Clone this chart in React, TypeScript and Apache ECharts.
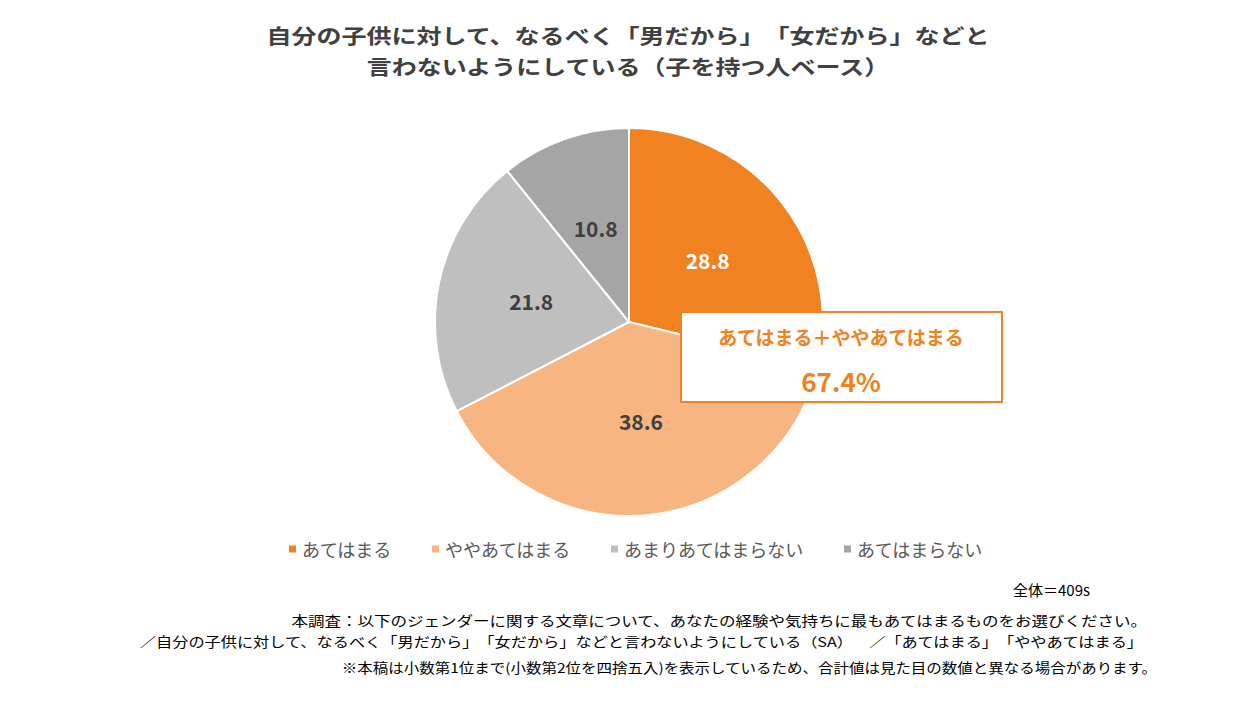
import React, { useEffect, useRef } from "react";
import * as echarts from "echarts";

const categories = ["あてはまる", "ややあてはまる", "あまりあてはまらない", "あてはまらない"];
const values = [28.8, 38.6, 21.8, 10.8];
const colors = ["#F08221", "#F7B681", "#BFBFBF", "#A5A5A5"];
const labelColors = ["#FFFFFF", "#404040", "#404040", "#404040"];
const titleLines = [
  "自分の子供に対して、なるべく「男だから」「女だから」などと",
  "言わないようにしている（子を持つ人ベース）",
];
const calloutLabel = "あてはまる＋ややあてはまる";
const calloutValue = "67.4%";
const baseNote = "全体＝409s";
const notes = [
  "本調査：以下のジェンダーに関する文章について、あなたの経験や気持ちに最もあてはまるものをお選びください。",
  "／自分の子供に対して、なるべく「男だから」「女だから」などと言わないようにしている（SA）　／「あてはまる」「ややあてはまる」",
];
const note3 = "※本稿は小数第1位まで(小数第2位を四捨五入)を表示しているため、合計値は見た目の数値と異なる場合があります。";

const FONT = "'Noto Sans CJK JP', 'Noto Sans', sans-serif";

function txt(text: string, x: number, y: number, align: string, size: number, opts: any = {}) {
  return {
    type: "text",
    x,
    y,
    scaleX: opts.scaleX ?? 1,
    scaleY: opts.scaleY ?? 1,
    z: opts.z ?? 5,
    style: {
      text,
      textAlign: align,
      textVerticalAlign: "middle",
      fill: opts.fill ?? "#000000",
      fontFamily: FONT,
      fontSize: size,
      fontWeight: opts.bold ? "bold" : "normal",
    },
  };
}

export default function App() {
  const ref = useRef<HTMLDivElement>(null);
  useEffect(() => {
    if (!ref.current) return;
    const chart = echarts.init(ref.current, null, { renderer: "svg" });
    chart.setOption({
      animation: false,
      backgroundColor: "#FFFFFF",
      textStyle: { fontFamily: FONT },
      legend: {
        data: categories,
        left: 282,
        top: 535,
        icon: "rect",
        itemWidth: 9,
        itemHeight: 9,
        itemGap: 38,
        textStyle: { fontFamily: FONT, fontSize: 18, color: "#595959" },
      },
      series: [
        {
          type: "pie",
          center: [629, 322],
          radius: 194,
          startAngle: 90,
          clockwise: true,
          itemStyle: { borderColor: "#FFFFFF", borderWidth: 2 },
          label: {
            show: true,
            position: "inside",
            fontFamily: FONT,
            fontSize: 21,
            fontWeight: "bold",
            formatter: (p: any) => p.value.toFixed(1),
          },
          labelLine: { show: false },
          emphasis: { disabled: true },
          data: categories.map((c, i) => ({
            name: c,
            value: values[i],
            itemStyle: { color: colors[i] },
            label: { color: labelColors[i] },
          })),
        },
      ],
      graphic: [
        txt(titleLines[0], 628, 35, "center", 25, { bold: true, fill: "#404040", scaleY: 0.83 }),
        txt(titleLines[1], 628, 65.5, "center", 25, { bold: true, fill: "#404040", scaleY: 0.83 }),
        {
          type: "rect",
          shape: { x: 681, y: 312, width: 321, height: 90 },
          style: { fill: "#FFFFFF", stroke: "#F08221", lineWidth: 2 },
          z: 10,
        },
        txt(calloutLabel, 841, 336, "center", 19, { bold: true, fill: "#F08221", z: 11 }),
        txt(calloutValue, 841, 380, "center", 26, { bold: true, fill: "#F08221", z: 11 }),
        txt(baseNote, 1090, 589, "right", 15),
        txt(notes[0], 1147, 620, "right", 16.5, { scaleY: 0.82 }),
        txt(notes[1], 1143, 641, "right", 16.2, { scaleY: 0.82 }),
        txt(note3, 1157, 667, "right", 15.5, { scaleY: 0.86 }),
      ],
    });
    return () => chart.dispose();
  }, []);
  return (
    <div
      ref={ref}
      style={{
        position: "fixed",
        left: 0,
        top: 0,
        width: 1248,
        height: 702,
        background: "#FFFFFF",
        textSpacingTrim: "space-all",
      } as any}
    />
  );
}
